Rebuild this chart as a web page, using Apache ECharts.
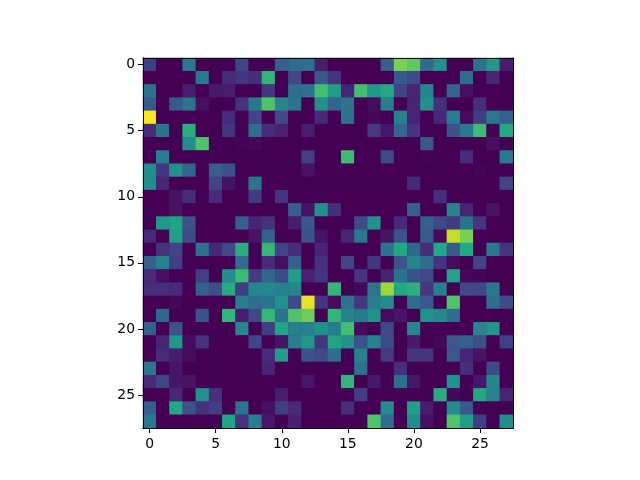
<!DOCTYPE html>
<html>
<head>
<meta charset="utf-8">
<style>html,body{margin:0;padding:0;background:#fff}#c{width:640px;height:480px}</style>
<script src="https://cdn.jsdelivr.net/npm/echarts@6/dist/echarts.min.js"></script>
</head>
<body>
<div id="c"></div>
<script>
const r0=[18,0,0,40,0,0,0,20,0,0,30,35,36,8,0,0,0,0,30,80,75,35,50,0,0,38,53,8];
const r1=[0,0,0,0,40,0,12,15,13,65,0,22,0,28,15,0,0,0,0,28,23,0,0,0,35,0,10,0];
const r2=[38,0,0,8,0,7,8,0,0,16,0,36,38,70,55,10,70,52,60,20,10,45,0,32,4,0,0,0];
const r3=[28,0,28,38,4,0,0,14,40,72,45,38,0,50,32,38,0,3,42,0,10,50,14,0,0,13,0,0];
const r4=[100,0,0,0,0,0,12,0,20,0,22,0,0,12,0,38,0,2,0,43,10,0,11,42,3,17,40,30];
const r5=[12,38,0,62,0,0,15,0,35,12,9,0,8,0,0,0,0,17,6,33,15,0,0,25,40,68,0,60];
const r6=[0,0,0,48,72,0,0,1,2,0,0,0,0,0,0,0,0,0,0,0,0,28,0,0,0,0,4,0];
const r7=[0,42,0,0,0,0,0,0,0,0,0,0,18,0,0,68,0,0,22,0,0,1,0,0,12,0,0,40];
const r8=[48,16,50,33,0,30,25,0,0,0,0,0,5,0,0,0,0,0,0,0,0,0,0,0,0,1,0,0];
const r9=[48,11,0,0,0,20,5,0,38,0,0,0,0,0,0,0,0,0,0,0,12,0,0,0,0,0,0,20];
const r10=[0,0,5,13,0,12,0,0,17,0,15,0,0,0,0,0,0,0,0,0,0,0,13,0,0,0,0,0];
const r11=[0,0,5,0,0,0,0,0,0,0,0,30,5,50,13,0,0,0,0,0,30,0,0,45,10,0,5,0];
const r12=[0,52,58,25,0,0,0,30,10,14,0,8,27,0,0,0,23,50,0,12,0,30,22,17,38,15,0,0];
const r13=[11,0,55,23,0,0,0,0,5,30,0,0,25,5,0,10,40,0,5,26,0,28,3,91,80,0,0,0];
const r14=[0,14,20,0,38,11,22,62,0,66,20,13,0,10,0,0,0,0,38,60,33,13,60,28,60,0,40,15];
const r15=[30,43,18,0,0,0,0,35,0,12,4,30,0,14,0,20,0,15,0,25,46,35,15,3,0,20,0,0];
const r16=[12,4,0,0,18,0,48,68,17,33,23,55,9,15,0,0,15,0,9,38,25,22,0,58,2,1,0,0];
const r17=[13,13,12,0,30,24,62,18,47,47,43,45,0,0,66,0,2,38,85,60,63,16,43,0,22,22,40,0];
const r18=[0,0,2,0,0,0,0,42,36,38,50,22,96,15,3,38,16,42,48,0,35,28,0,72,0,0,35,23];
const r19=[0,33,0,0,25,0,65,8,22,66,38,72,78,0,65,44,40,50,3,6,0,50,47,35,0,0,0,0];
const r20=[30,0,25,0,0,0,0,46,0,18,58,42,43,50,42,70,3,0,22,0,45,0,0,0,0,45,52,0];
const r21=[0,10,52,3,14,0,0,0,20,0,5,42,52,16,58,50,25,44,23,0,7,0,2,27,30,24,0,18];
const r22=[0,12,8,3,0,0,0,0,0,12,55,0,25,22,36,0,44,0,17,0,15,16,0,27,10,5,0,0];
const r23=[40,0,6,0,0,0,0,0,0,10,0,0,0,0,0,0,38,0,0,13,0,0,0,0,13,0,22,0];
const r24=[12,20,6,5,0,0,0,0,0,0,0,0,6,0,0,65,0,6,0,36,6,0,0,50,0,6,45,0];
const r25=[0,0,11,0,50,14,0,0,0,0,8,0,0,0,0,0,18,0,0,0,0,0,62,2,0,60,45,10];
const r26=[30,0,60,25,14,18,0,38,0,4,18,12,0,0,0,13,0,0,48,0,55,8,0,48,28,0,0,0];
const r27=[40,0,0,0,0,0,58,14,42,6,0,9,0,0,0,0,0,72,35,0,48,4,0,72,55,18,0,48];
const rows=[r0,r1,r2,r3,r4,r5,r6,r7,r8,r9,r10,r11,r12,r13,r14,r15,r16,r17,r18,r19,r20,r21,r22,r23,r24,r25,r26,r27];
const categories=rows.map((_,i)=>String(i));
const viridis=['#440154','#482475','#414487','#355f8d','#2a788e','#21918c','#22a884','#44bf70','#7ad151','#bddf26','#fde725'];
const cells=[];
rows.forEach((row,y)=>row.forEach((v,x)=>cells.push([x,y,v])));
const axisCommon={
  type:'category',data:categories,z:5,
  axisLine:{show:true,onZero:false,lineStyle:{color:'#000',width:1}},
  axisTick:{show:true,alignWithLabel:true,interval:4,length:5,lineStyle:{color:'#000',width:1}},
  axisLabel:{show:true,interval:4,color:'#000',fontFamily:'DejaVu Sans',fontSize:13.9,margin:9},
  splitLine:{show:false},splitArea:{show:false}
};
const frameCommon={
  type:'category',data:categories,z:5,
  axisLine:{show:true,onZero:false,lineStyle:{color:'#000',width:1}},
  axisTick:{show:false},axisLabel:{show:false},splitLine:{show:false},splitArea:{show:false}
};
const chart=echarts.init(document.getElementById('c'),null,{renderer:'canvas'});
const yLabel=Object.assign({},axisCommon.axisLabel,{margin:8,padding:[5,0,0,0]});
chart.setOption({
  animation:false,
  backgroundColor:'#fff',
  grid:{left:143,top:58,width:370,height:370,show:true,backgroundColor:'#440154',borderWidth:0,containLabel:false},
  xAxis:[Object.assign({},axisCommon,{position:'bottom'}),Object.assign({},frameCommon,{position:'top'})],
  yAxis:[Object.assign({},axisCommon,{inverse:true,position:'left',axisLabel:yLabel}),Object.assign({},frameCommon,{inverse:true,position:'right'})],
  visualMap:{show:false,min:0,max:100,dimension:2,inRange:{color:viridis}},
  series:[{type:'heatmap',data:cells,progressive:0,itemStyle:{borderWidth:0},emphasis:{disabled:true},z:1}]
});
</script>
</body>
</html>
